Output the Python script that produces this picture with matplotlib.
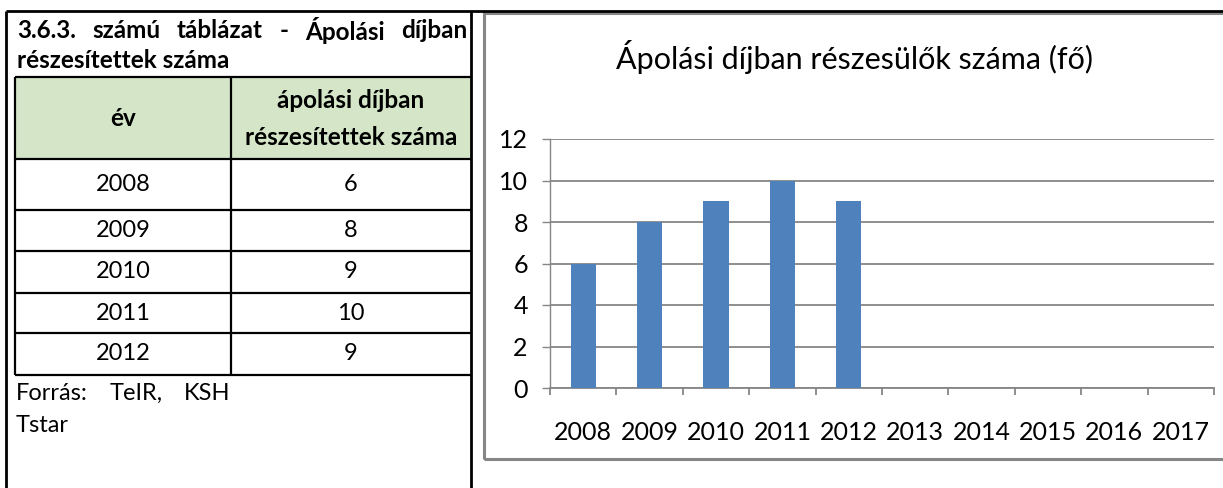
import numpy as np
import matplotlib.pyplot as plt
from matplotlib.lines import Line2D
from matplotlib.patches import Rectangle

W, H = 1223, 488

years = [2008, 2009, 2010, 2011, 2012, 2013, 2014, 2015, 2016, 2017]
table_years = [2008, 2009, 2010, 2011, 2012]
counts = [6, 8, 9, 10, 9]

title_words = ['3.6.3.', 'számú', 'táblázat', '-', 'Ápolási', 'díjban']
source_words = ['Forrás:', 'TeIR,', 'KSH']
chart_title = 'Ápolási díjban részesülők száma (fő)'

FONT = 'Lato'
plt.rcParams['font.family'] = [FONT, 'DejaVu Sans']
BOLD_SZ = 17.5
REG_SZ = 17


def fx(x):
    return x / W


def fy(y):
    return 1 - y / H


def hline(fig, x0, x1, y, color='black', lw=1.6):
    fig.add_artist(Line2D([fx(x0), fx(x1)], [fy(y), fy(y)], color=color, lw=lw,
                          transform=fig.transFigure, solid_capstyle='butt'))


def vline(fig, x, y0, y1, color='black', lw=1.6):
    fig.add_artist(Line2D([fx(x), fx(x)], [fy(y0), fy(y1)], color=color, lw=lw,
                          transform=fig.transFigure, solid_capstyle='butt'))


def justified(fig, words, x0, x1, y, **kw):
    # spread words evenly between x0 and x1 (like a justified paragraph line)
    r = fig.canvas.get_renderer()
    texts = [fig.text(fx(x0), fy(y), w, ha='left', va='center', **kw) for w in words]
    widths = [t.get_window_extent(r).width for t in texts]
    gap = (x1 - x0 - sum(widths)) / (len(words) - 1)
    x = x0
    for t, w in zip(texts, widths):
        t.set_x(fx(x))
        x += w + gap


fig = plt.figure(figsize=(W / 100, H / 100), dpi=100)

# ---- left table ----
fig.add_artist(Rectangle((fx(15), fy(159)), fx(471) - fx(15), fy(77) - fy(159),
                         transform=fig.transFigure, facecolor='#d5e6c8', edgecolor='none'))
hline(fig, 6, W, 11, lw=2)
vline(fig, 6, 11, H, lw=2)
vline(fig, 471, 11, H, lw=2)

row_y = [77, 159, 210, 251, 293, 333, 375]
for y in row_y:
    hline(fig, 15, 471, y)
vline(fig, 15, 77, 375)
vline(fig, 231, 77, 375)

justified(fig, title_words, 17, 467, 31, fontsize=BOLD_SZ, fontweight='bold')
fig.text(fx(17), fy(61), 'részesítettek száma', fontsize=BOLD_SZ, fontweight='bold',
         ha='left', va='center')

fig.text(fx(123), fy(118), 'év', fontsize=BOLD_SZ, fontweight='bold', ha='center', va='center')
fig.text(fx(351), fy(100), 'ápolási díjban', fontsize=BOLD_SZ, fontweight='bold',
         ha='center', va='center')
fig.text(fx(351), fy(137), 'részesítettek száma', fontsize=BOLD_SZ, fontweight='bold',
         ha='center', va='center')

for i, (yr, v) in enumerate(zip(table_years, counts)):
    yc = (row_y[i + 1] + row_y[i + 2]) / 2
    fig.text(fx(123), fy(yc), str(yr), fontsize=REG_SZ, ha='center', va='center')
    fig.text(fx(351), fy(yc), str(v), fontsize=REG_SZ, ha='center', va='center')

justified(fig, source_words, 16, 230, 393, fontsize=REG_SZ)
fig.text(fx(16), fy(426), 'Tstar', fontsize=REG_SZ, ha='left', va='center')

# ---- chart ----
fig.add_artist(Rectangle((fx(484), fy(459)), fx(W + 5) - fx(484), fy(13) - fy(459),
                         transform=fig.transFigure, facecolor='none',
                         edgecolor='#868686', lw=2.2))
fig.text(fx(855), fy(57), chart_title, fontsize=22, ha='center', va='center')

ax = fig.add_axes([fx(550), fy(388), fx(1214) - fx(550), fy(139) - fy(388)])
x = np.arange(len(years))
ax.bar(x[:len(counts)], counts, width=0.38, color='#4f81bd', zorder=3)
ax.set_xlim(-0.5, len(years) - 0.5)
ax.set_ylim(0, 12)
ax.set_yticks(range(0, 13, 2))
ax.yaxis.grid(True, color='#868686', lw=1.3)
ax.set_axisbelow(True)
for s in ['top', 'right']:
    ax.spines[s].set_visible(False)
ax.spines['left'].set_color('#868686')
ax.spines['bottom'].set_color('#868686')
ax.spines['left'].set_linewidth(1.0)
ax.spines['bottom'].set_linewidth(1.3)
ax.tick_params(axis='y', length=6, width=1.0, color='#868686', pad=10, labelsize=18)

ax.set_xticks(np.arange(-0.5, len(years), 1.0))
ax.set_xticklabels([])
ax.set_xticks(x, minor=True)
ax.set_xticklabels([str(y) for y in years], minor=True)
ax.tick_params(axis='x', which='major', length=5, width=1.3, color='#868686')
ax.tick_params(axis='x', which='minor', length=0, pad=24, labelsize=18)

fig.savefig('out.png', dpi=100)
